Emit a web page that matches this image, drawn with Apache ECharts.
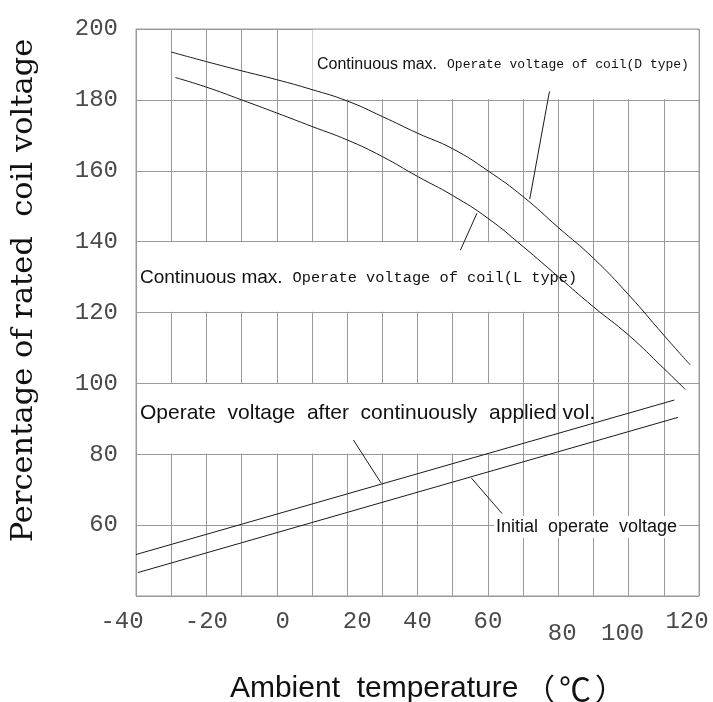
<!DOCTYPE html>
<html>
<head>
<meta charset="utf-8">
<title>coil voltage vs ambient temperature</title>
<script src="https://cdn.jsdelivr.net/npm/echarts@6/dist/echarts.min.js"></script>
</head>
<body style="margin:0;background:#fff">
<div id="main" style="width:713px;height:702px"></div>
<script type="text/javascript">
// D type curve
var tempD = [-30, -20, -10, 0, 10, 20, 30, 40, 50, 60, 70, 80, 90, 100, 110, 117.5];
var voltD = [193.5, 190.8, 188.2, 185.7, 182.9, 179.7, 175.3, 170.6, 166.2, 160.0, 152.7, 144.0, 135.3, 125.0, 113.6, 105.2];
// L type curve
var tempL = [-28.8, -20, -10, 0, 10, 20, 30, 40, 50, 60, 70, 80, 90, 100, 110, 116.1];
var voltL = [186.3, 183.6, 180.0, 176.3, 172.5, 168.7, 164.0, 158.4, 153.0, 146.6, 138.6, 130.1, 121.6, 113.6, 104.2, 98.3];
// operate voltage after continuously applied vol.
var tempOp = [-40, 113];
var voltOp = [51.7, 95.3];
// initial operate voltage
var tempInit = [-39.5, 114];
var voltInit = [46.6, 90.4];
// leader lines
var leaderD = [[77.5, 182.4], [71.9, 152.0]];
var leaderL = [[56.9, 148.0], [52.2, 137.6]];
var leaderOp = [[21.8, 84.0], [29.7, 71.8]];
var leaderInit = [[55.3, 73.3], [64, 63.3]];
// blank (no grid) zones behind the texts
var blankZones = [
  [[10.15, 180.2], [119.8, 199.8]],
  [[-39.7, 120.2], [75, 139.8]],
  [[-39.7, 80.2], [65, 99.8]]
];

function pairs(xs, ys) {
  return xs.map(function (x, i) { return [x, ys[i]]; });
}

var chart = echarts.init(document.getElementById('main'));

var gridLine = { show: true, lineStyle: { color: '#9a9a9a', width: 1 } };
var tickFont = 'Liberation Mono';
var tickColor = '#4a4a4a';

function tickStyle(pad) {
  return { fontFamily: tickFont, fontSize: 24, color: tickColor, padding: pad };
}

function curve(name, data, smooth) {
  return {
    name: name, type: 'line', data: data, smooth: smooth, symbol: 'none', z: 5,
    lineStyle: { color: '#1a1a1a', width: 1 }
  };
}

var option = {
  backgroundColor: '#fff',
  animation: false,
  grid: {
    left: 136, right: 14, top: 29, bottom: 106, outerBoundsMode: 'none', containLabel: false,
    show: true, borderColor: '#9a9a9a', borderWidth: 1
  },
  xAxis: {
    type: 'value', min: -40, max: 120, interval: 20,
    axisLine: { show: false }, axisTick: { show: false },
    splitLine: gridLine,
    minorTick: { show: false, splitNumber: 2 },
    minorSplitLine: gridLine,
    axisLabel: {
      margin: 14, color: tickColor, fontFamily: tickFont, fontSize: 24,
      formatter: function (v) {
        if (v === -40) return '{l14|-40}';
        if (v === 0) return '{r6|0}';
        if (v === 20) return '{r10|20}';
        if (v === 80) return '{lo|80}';
        if (v === 100) return '{lo100|100}';
        if (v === 120) return '{l12|120}';
        return String(v);
      },
      rich: {
        l14: tickStyle([0, 28, 0, 0]),
        r6: tickStyle([0, 0, 0, 12]),
        r10: tickStyle([0, 0, 0, 20]),
        lo: tickStyle([12, 0, 0, 8]),
        lo100: tickStyle([12, 12, 0, 0]),
        l12: tickStyle([0, 24, 0, 0])
      }
    },
    name: '{a|Ambient  temperature}  {b|（}{c|℃}{b|）}',
    nameLocation: 'middle', nameGap: 77,
    nameTextStyle: {
      padding: [0, 0, 0, 20],
      rich: {
        a: { fontFamily: 'Liberation Sans', fontSize: 30, color: '#111' },
        b: { fontFamily: 'Noto Sans CJK SC', fontSize: 30, color: '#111' },
        c: { fontFamily: 'Noto Sans CJK SC', fontSize: 32, color: '#111', padding: [0, 4, 0, 4] }
      }
    }
  },
  yAxis: {
    type: 'value', min: 40, max: 200, interval: 20,
    axisLine: { show: false }, axisTick: { show: false },
    splitLine: gridLine,
    axisLabel: {
      margin: 18, color: tickColor, fontFamily: tickFont, fontSize: 24,
      formatter: function (v) { return v === 40 ? '' : String(v); }
    },
    name: 'Percentage of rated  coil voltage',
    nameLocation: 'middle', nameGap: 96, nameRotate: 90,
    nameTextStyle: { fontFamily: 'DejaVu Serif', fontSize: 30.5, color: '#111', padding: [0, 0, 0, 44] }
  },
  graphic: [
    {
      type: 'text', left: 317, top: 57, z: 10,
      style: {
        text: '{a|Continuous max.}   {b|Operate voltage of coil(D type)}',
        rich: {
          a: { fontFamily: 'Liberation Sans', fontSize: 16, fill: '#111' },
          b: { fontFamily: 'Liberation Mono', fontSize: 13, fill: '#111' }
        }
      }
    },
    {
      type: 'text', left: 140, top: 268, z: 10,
      style: {
        text: '{a|Continuous max.}   {b|Operate voltage of coil(L type)}',
        rich: {
          a: { fontFamily: 'Liberation Sans', fontSize: 19, fill: '#111' },
          b: { fontFamily: 'Liberation Mono', fontSize: 15.3, fill: '#111' }
        }
      }
    },
    {
      type: 'text', left: 140, top: 403, z: 10,
      style: { text: 'Operate  voltage  after  continuously  applied vol.', font: '21px "Liberation Sans"', fill: '#111' }
    },
    {
      type: 'text', left: 494, top: 516, z: 10,
      style: { text: 'Initial  operate  voltage', font: '18px "Liberation Sans"', fill: '#111', backgroundColor: '#fff', padding: [2, 2, 2, 2] }
    }
  ],
  series: [
    {
      name: 'blank', type: 'line', data: [], z: 1,
      markArea: {
        silent: true,
        itemStyle: { color: '#fff', opacity: 1 },
        data: blankZones.map(function (b) {
          return [{ coord: b[0] }, { coord: b[1] }];
        })
      }
    },
    curve('D type', pairs(tempD, voltD), true),
    curve('L type', pairs(tempL, voltL), true),
    curve('Operate voltage after continuously applied vol.', pairs(tempOp, voltOp), false),
    curve('Initial operate voltage', pairs(tempInit, voltInit), false),
    curve('leaderD', leaderD, false),
    curve('leaderL', leaderL, false),
    curve('leaderOp', leaderOp, false),
    curve('leaderInit', leaderInit, false)
  ]
};

chart.setOption(option);
</script>
</body>
</html>
